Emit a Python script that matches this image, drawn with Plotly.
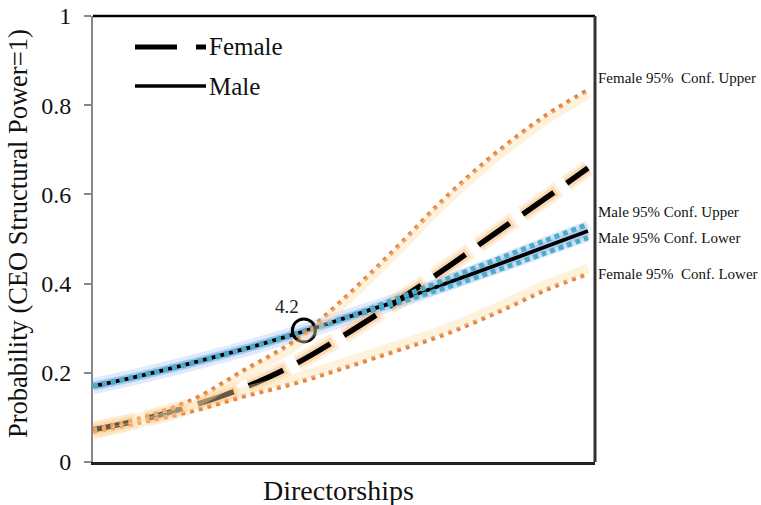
import plotly.graph_objects as go

# ---- data ----
directorships = [0, 1, 2, 3, 4, 5, 6, 7, 8, 9, 9.86]
female = [0.072, 0.096, 0.127, 0.166, 0.218, 0.284, 0.356, 0.432, 0.512, 0.590, 0.659]
male = [0.170, 0.195, 0.223, 0.253, 0.286, 0.322, 0.359, 0.399, 0.440, 0.482, 0.518]
female_upper = [0.072, 0.100, 0.140, 0.205, 0.270, 0.366, 0.475, 0.590, 0.690, 0.775, 0.834]
female_lower = [0.068, 0.090, 0.115, 0.147, 0.176, 0.211, 0.248, 0.286, 0.333, 0.385, 0.422]
male_upper = [0.170, 0.195, 0.223, 0.253, 0.286, 0.322, 0.364, 0.408, 0.452, 0.496, 0.533]
male_lower = [0.170, 0.195, 0.223, 0.253, 0.286, 0.322, 0.354, 0.390, 0.428, 0.468, 0.503]
crossing_x = [4.2]
crossing_y = [0.295]
y_ticks = [0, 0.2, 0.4, 0.6, 0.8, 1]
y_tick_labels = ["0", "0.2", "0.4", "0.6", "0.8", "1"]
right_labels = ["Female 95%  Conf. Upper", "Male 95% Conf. Upper",
                "Male 95% Conf. Lower", "Female 95%  Conf. Lower"]
right_label_y = [0.861, 0.561, 0.503, 0.422]

SERIF = "Liberation Serif, Times New Roman, serif"
ORANGE = "#E8843C"
BLUE = "#4BACC6"

fig = go.Figure()

def add(x, y, color, width, dash="solid", yaxis="y"):
    fig.add_trace(go.Scatter(x=x, y=y, mode="lines", yaxis=yaxis,
                             line=dict(color=color, width=width, dash=dash, shape="spline"),
                             hoverinfo="skip", showlegend=False))

# glows
add(directorships, male, "rgba(110,165,235,0.22)", 16)
add(directorships, male, "rgba(110,165,235,0.25)", 9)
add(directorships, male_upper, "rgba(110,165,235,0.2)", 8)
add(directorships, male_lower, "rgba(110,165,235,0.2)", 8)
add(directorships, female_upper, "rgba(254,222,170,0.4)", 8, yaxis="y2")
add(directorships, female_lower, "rgba(254,222,170,0.4)", 9, yaxis="y3")
add(directorships, female, "rgba(252,190,120,0.25)", 17, dash="44px,10px")
add(directorships, female, "rgba(250,175,95,0.35)", 11, dash="41px,13px")

# main lines
add(directorships, male, "black", 3.8)
add(directorships, female, "black", 5.5, dash="38px,16px")

# confidence dotted lines
add(directorships, male_upper, BLUE, 5, dash="5px,4px")
add(directorships, male_lower, BLUE, 5, dash="5px,4px")
add(directorships, female_upper, ORANGE, 4.5, dash="4px,5px")
add(directorships, female_lower, ORANGE, 4.5, dash="4px,5px")

# crossing marker
fig.add_trace(go.Scatter(x=crossing_x, y=crossing_y, mode="markers",
                         marker=dict(symbol="circle-open", size=23, color="black",
                                     line=dict(width=3, color="black")),
                         hoverinfo="skip", showlegend=False))
fig.add_annotation(x=crossing_x[0], y=crossing_y[0], text="4.2", showarrow=False,
                   xref="x", yref="y", xshift=-17, yshift=24,
                   font=dict(family=SERIF, size=19, color="#222"))

# frame: top and right borders
fig.add_shape(type="line", xref="paper", yref="paper", x0=0, x1=1, y0=1, y1=1,
              line=dict(color="black", width=2.5))
fig.add_shape(type="line", xref="paper", yref="paper", x0=1, x1=1, y0=0, y1=1,
              line=dict(color="#333", width=3))

# manual legend
fig.add_shape(type="line", xref="paper", yref="paper", x0=(135-93)/502, x1=(177-93)/502,
              y0=(462-47)/446, y1=(462-47)/446, line=dict(color="black", width=5))
fig.add_shape(type="line", xref="paper", yref="paper", x0=(196-93)/502, x1=(206-93)/502,
              y0=(462-47)/446, y1=(462-47)/446, line=dict(color="black", width=5))
fig.add_shape(type="line", xref="paper", yref="paper", x0=(135-93)/502, x1=(206-93)/502,
              y0=(462-86)/446, y1=(462-86)/446, line=dict(color="black", width=3.5))
for name, py in [("Female", 47), ("Male", 86)]:
    fig.add_annotation(x=(207-93)/502, y=(462-py)/446, xref="paper", yref="paper",
                       text=name, showarrow=False, xanchor="left", yanchor="middle",
                       font=dict(family=SERIF, size=25, color="#111"))

# right labels
for lab, ly in zip(right_labels, right_label_y):
    fig.add_annotation(x=1.0 + 1/502, y=ly, xref="paper", yref="y", text=lab, showarrow=False,
                       xanchor="left", yanchor="middle",
                       font=dict(family=SERIF, size=15, color="#111"))

# axis titles
fig.add_annotation(x=(338-93)/502, y=(462-490)/446, xref="paper", yref="paper",
                   text="Directorships", showarrow=False, xanchor="center", yanchor="middle",
                   font=dict(family=SERIF, size=28, color="#111"))
fig.add_annotation(x=(18-93)/502, y=(462-234)/446, xref="paper", yref="paper",
                   text="Probability (CEO Structural Power=1)", showarrow=False, textangle=-90,
                   xanchor="center", yanchor="middle",
                   font=dict(family=SERIF, size=26.5, color="#111"))

fig.update_layout(
    width=761, height=505,
    margin=dict(l=93, r=166, t=16, b=43, autoexpand=False),
    paper_bgcolor="white", plot_bgcolor="white",
    xaxis=dict(range=[0, 10], showgrid=False, zeroline=False, showticklabels=False,
               ticks="", showline=True, linecolor="#222", linewidth=3, automargin=False),
    yaxis=dict(range=[0, 1], showgrid=False, zeroline=False, tickvals=y_ticks,
               ticktext=y_tick_labels, ticks="outside", ticklen=7, tickcolor="#888",
               tickwidth=1.5, showline=True, linecolor="#888", linewidth=2,
               ticklabelstandoff=8, automargin=False,
               tickfont=dict(family=SERIF, size=24, color="#111")),
    yaxis2=dict(range=[0.012, 1.012], overlaying="y", visible=False),
    yaxis3=dict(range=[-0.012, 0.988], overlaying="y", visible=False),
    showlegend=False,
)

fig.write_html("out.html", config={"displayModeBar": False},
               post_script="document.body.style.margin='0';")
